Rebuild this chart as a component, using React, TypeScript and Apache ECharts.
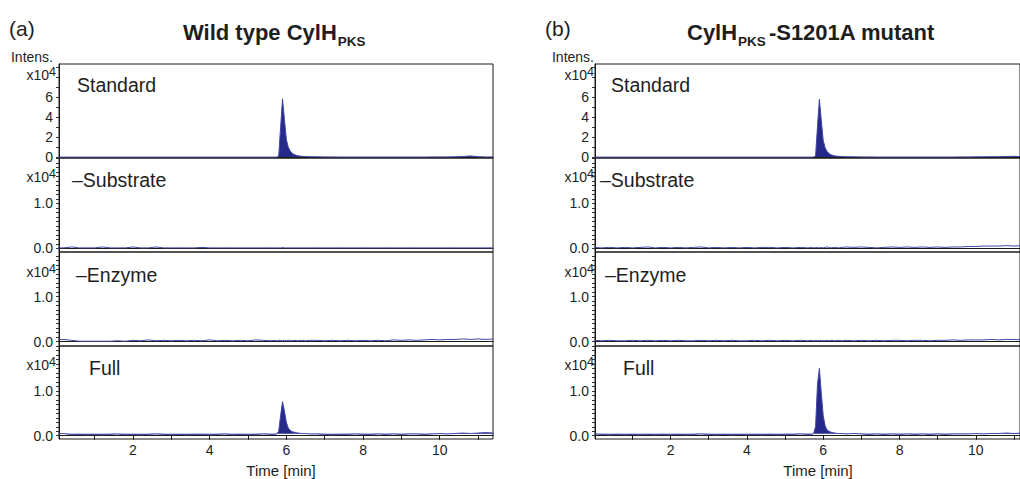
import React, { useEffect, useRef } from "react";
import * as echarts from "echarts";

// ---- data (intensities in units of 10^4) ----
const times = [
  0.0, 0.2, 0.4, 0.6, 0.8, 1.0, 1.2, 1.4, 1.6, 1.8, 2.0, 2.2, 2.4, 2.6, 2.8, 3.0, 3.2, 3.4, 3.6, 3.8, 4.0, 4.2, 4.4, 4.6, 4.8, 5.0, 5.2, 5.4, 5.6,
  5.7, 5.75, 5.8, 5.85, 5.9, 5.95, 6.0, 6.05, 6.1, 6.15, 6.2, 6.3, 6.4, 6.5, 6.6,
  6.8, 7.0, 7.2, 7.4, 7.6, 7.8, 8.0, 8.2, 8.4, 8.6, 8.8, 9.0, 9.2, 9.4, 9.6, 9.8, 10.0, 10.2, 10.4, 10.6, 10.8, 11.0, 11.2, 11.4,
];

const wtStandard = [
  0.02, 0.02, 0.02, 0.02, 0.02, 0.02, 0.02, 0.02, 0.02, 0.02, 0.02, 0.02, 0.02, 0.02, 0.02, 0.02, 0.02, 0.02, 0.02, 0.02, 0.02, 0.02, 0.02, 0.02, 0.02, 0.02, 0.02, 0.02, 0.02,
  0.02, 0.03, 0.1, 3.0, 5.85, 3.8, 1.8, 1.0, 0.65, 0.4, 0.28, 0.15, 0.1, 0.08, 0.06,
  0.05, 0.04, 0.04, 0.03, 0.03, 0.03, 0.03, 0.03, 0.03, 0.03, 0.03, 0.03, 0.03, 0.03, 0.03, 0.04, 0.04, 0.04, 0.05, 0.08, 0.14, 0.06, 0.04, 0.04,
];
const wtSubstrate = [
  0.01, 0.01, 0.03, 0.01, 0.01, 0.01, 0.03, 0.01, 0.01, 0.01, 0.03, 0.01, 0.01, 0.03, 0.01, 0.01, 0.01, 0.01, 0.01, 0.02, 0.01, 0.01, 0.01, 0.01, 0.01, 0.01, 0.01, 0.01, 0.01,
  0.01, 0.01, 0.01, 0.01, 0.02, 0.01, 0.01, 0.01, 0.01, 0.01, 0.01, 0.01, 0.01, 0.01, 0.01,
  0.01, 0.01, 0.01, 0.01, 0.01, 0.01, 0.01, 0.01, 0.01, 0.01, 0.01, 0.01, 0.01, 0.01, 0.01, 0.01, 0.01, 0.01, 0.01, 0.01, 0.01, 0.01, 0.01, 0.01,
];
const wtEnzyme = [
  0.04, 0.05, 0.03, 0.01, 0.01, 0.01, 0.01, 0.01, 0.02, 0.01, 0.03, 0.02, 0.04, 0.02, 0.03, 0.02, 0.03, 0.02, 0.03, 0.02, 0.04, 0.02, 0.03, 0.02, 0.03, 0.02, 0.04, 0.03, 0.02,
  0.03, 0.02, 0.03, 0.03, 0.02, 0.03, 0.02, 0.03, 0.03, 0.02, 0.03, 0.02, 0.03, 0.02, 0.03,
  0.03, 0.02, 0.03, 0.02, 0.03, 0.02, 0.03, 0.02, 0.03, 0.02, 0.04, 0.03, 0.04, 0.03, 0.04, 0.05, 0.04, 0.05, 0.05, 0.06, 0.05, 0.06, 0.05, 0.06,
];
const wtFull = [
  0.04, 0.05, 0.02, 0.03, 0.02, 0.03, 0.02, 0.03, 0.04, 0.02, 0.03, 0.02, 0.03, 0.04, 0.03, 0.02, 0.03, 0.02, 0.03, 0.03, 0.02, 0.03, 0.04, 0.02, 0.03, 0.02, 0.03, 0.04, 0.03,
  0.03, 0.04, 0.1, 0.45, 0.76, 0.55, 0.3, 0.17, 0.12, 0.09, 0.08, 0.06, 0.05, 0.05, 0.04,
  0.04, 0.03, 0.02, 0.03, 0.03, 0.04, 0.03, 0.03, 0.04, 0.03, 0.04, 0.03, 0.04, 0.04, 0.03, 0.04, 0.05, 0.04, 0.05, 0.06, 0.05, 0.06, 0.07, 0.06,
];

const mutStandard = [
  0.02, 0.02, 0.02, 0.02, 0.02, 0.02, 0.02, 0.02, 0.02, 0.02, 0.02, 0.02, 0.02, 0.02, 0.02, 0.02, 0.02, 0.02, 0.02, 0.02, 0.02, 0.02, 0.02, 0.02, 0.02, 0.02, 0.02, 0.02, 0.02,
  0.02, 0.03, 0.12, 3.1, 5.8, 3.7, 1.7, 0.95, 0.6, 0.38, 0.26, 0.14, 0.1, 0.08, 0.06,
  0.05, 0.04, 0.04, 0.03, 0.03, 0.03, 0.03, 0.03, 0.03, 0.03, 0.03, 0.03, 0.03, 0.03, 0.04, 0.04, 0.05, 0.05, 0.06, 0.06, 0.08, 0.1, 0.06, 0.05,
];
const mutSubstrate = [
  0.02, 0.01, 0.02, 0.01, 0.02, 0.01, 0.02, 0.03, 0.01, 0.02, 0.01, 0.02, 0.01, 0.02, 0.03, 0.01, 0.02, 0.01, 0.02, 0.01, 0.02, 0.01, 0.02, 0.02, 0.01, 0.02, 0.01, 0.02, 0.01,
  0.02, 0.01, 0.02, 0.02, 0.01, 0.02, 0.01, 0.02, 0.03, 0.02, 0.01, 0.02, 0.01, 0.02, 0.03,
  0.02, 0.03, 0.02, 0.01, 0.02, 0.03, 0.02, 0.03, 0.02, 0.03, 0.02, 0.03, 0.02, 0.03, 0.03, 0.04, 0.04, 0.05, 0.05, 0.05, 0.06, 0.05, 0.06, 0.06,
];
const mutEnzyme = [
  0.03, 0.02, 0.03, 0.02, 0.02, 0.03, 0.02, 0.03, 0.02, 0.03, 0.02, 0.03, 0.02, 0.02, 0.03, 0.02, 0.03, 0.02, 0.03, 0.02, 0.02, 0.03, 0.02, 0.03, 0.02, 0.03, 0.02, 0.03, 0.02,
  0.03, 0.02, 0.03, 0.02, 0.03, 0.02, 0.03, 0.02, 0.03, 0.02, 0.03, 0.02, 0.03, 0.02, 0.03,
  0.02, 0.03, 0.02, 0.03, 0.02, 0.03, 0.03, 0.02, 0.03, 0.03, 0.02, 0.03, 0.03, 0.04, 0.03, 0.04, 0.04, 0.04, 0.05, 0.04, 0.05, 0.05, 0.04, 0.05,
];
const mutFull = [
  0.04, 0.03, 0.02, 0.03, 0.02, 0.03, 0.02, 0.03, 0.02, 0.03, 0.02, 0.03, 0.02, 0.03, 0.04, 0.03, 0.02, 0.03, 0.02, 0.03, 0.02, 0.03, 0.02, 0.03, 0.02, 0.03, 0.03, 0.04, 0.03,
  0.03, 0.05, 0.2, 1.15, 1.5, 0.95, 0.45, 0.22, 0.13, 0.1, 0.08, 0.06, 0.05, 0.05, 0.04,
  0.05, 0.04, 0.03, 0.04, 0.03, 0.04, 0.03, 0.04, 0.03, 0.04, 0.03, 0.04, 0.03, 0.04, 0.04, 0.04, 0.05, 0.04, 0.05, 0.05, 0.06, 0.05, 0.06, 0.07,
];

const panelNames = ["Standard", "\u2013Substrate", "\u2013Enzyme", "Full"];
const stdTickLabels = [0, 2, 4, 6];
const stdTicks = [0, 1, 2, 3, 4, 5, 6, 7, 8, 9];
const lowTickLabels = [0, 1];
const lowTicks = [0, 0.1, 0.2, 0.3, 0.4, 0.5, 0.6, 0.7, 0.8, 0.9, 1.0, 1.1, 1.2, 1.3, 1.4, 1.5, 1.6, 1.7, 1.8, 1.9, 2.0];
const xTickLabels = [2, 4, 6, 8, 10];
const xTicks = [1, 2, 3, 4, 5, 6, 7, 8, 9, 10, 11];

// ---- layout ----
const FONT = "'Liberation Sans', Arial, Helvetica, sans-serif";
const TXT = "#1e1e1e";
const LINE = "#4347a6";
const FILL = "#252a88";

const rows = [
  { top: 64, height: 94, min: -0.07, max: 9.33, labels: stdTickLabels, ticks: stdTicks, dec: 0, nameY: 85, x10Y: 75, fill: true, origin: 0.03 },
  { top: 158, height: 94, min: -0.082, max: 2.007, labels: lowTickLabels, ticks: lowTicks, dec: 1, nameY: 180, x10Y: 177, fill: false, origin: 0 },
  { top: 252, height: 94, min: -0.096, max: 1.993, labels: lowTickLabels, ticks: lowTicks, dec: 1, nameY: 275, x10Y: 272, fill: false, origin: 0 },
  { top: 346, height: 93, min: -0.073, max: 2.0, labels: lowTickLabels, ticks: lowTicks, dec: 1, nameY: 368, x10Y: 365, fill: true, origin: 0.045 },
];

const sides = [
  {
    left: 59, width: 434, xMin: 0.07, xMax: 11.39,
    data: [wtStandard, wtSubstrate, wtEnzyme, wtFull],
    nameX: [77, 72, 76, 89],
    x10Right: 56, intensRight: 53,
    tag: "(a)", tagX: 9,
    titleX: 183,
    titleRich: "{m|Wild type CylH}{s|PKS}",
    timeX: 281,
  },
  {
    left: 595, width: 426, xMin: 0.02, xMax: 11.157,
    data: [mutStandard, mutSubstrate, mutEnzyme, mutFull],
    nameX: [611, 600, 605, 623],
    x10Right: 594, intensRight: 594,
    tag: "(b)", tagX: 545,
    titleX: 687,
    titleRich: "{m|CylH}{s|PKS}{m|-S1201A mutant}",
    timeX: 818,
  },
];

export default function App() {
  const ref = useRef<HTMLDivElement>(null);

  useEffect(() => {
    document.body.style.margin = "0";
    if (!ref.current) return;
    const chart = echarts.init(ref.current, null, { renderer: "svg" });

    const grid: any[] = [];
    const xAxis: any[] = [];
    const yAxis: any[] = [];
    const series: any[] = [];
    const graphic: any[] = [];

    sides.forEach((s) => {
      rows.forEach((r, ri) => {
        const idx = grid.length;
        const isBottom = ri === rows.length - 1;
        grid.push({
          left: s.left, top: r.top, width: s.width, height: r.height,
          show: true, borderColor: "#1a1a1a", borderWidth: 1, backgroundColor: "transparent",
          containLabel: false,
        });
        xAxis.push({
          type: "value", gridIndex: idx, min: s.xMin, max: s.xMax,
          axisLine: { show: true, lineStyle: { color: "#1a1a1a", width: 1 } },
          splitLine: { show: false },
          axisTick: isBottom
            ? { show: true, customValues: xTicks, length: 4, inside: false, lineStyle: { color: "#1a1a1a" } }
            : { show: false },
          axisLabel: isBottom
            ? { show: true, customValues: xTickLabels, fontSize: 14, color: TXT, fontFamily: FONT, margin: 4 }
            : { show: false },
        });
        yAxis.push({
          type: "value", gridIndex: idx, min: r.min, max: r.max,
          axisLine: { show: true, lineStyle: { color: "#1a1a1a", width: 1 } },
          splitLine: { show: false },
          axisTick: { show: true, customValues: r.ticks, length: 3, inside: false, lineStyle: { color: "#333" } },
          axisLabel: {
            show: true, customValues: r.labels, fontSize: 14, color: TXT, fontFamily: FONT, margin: 6,
            formatter: (v: number) => v.toFixed(r.dec),
          },
        });
        const vals = s.data[ri];
        const ser: any = {
          type: "line", xAxisIndex: idx, yAxisIndex: idx,
          data: times.map((t, k) => [t, vals[k]]),
          symbol: "none", showSymbol: false, clip: true,
          lineStyle: { color: LINE, width: 1 },
          silent: true,
        };
        if (r.fill) ser.areaStyle = { color: FILL, opacity: 1, origin: r.origin };
        series.push(ser);
        // panel name
        graphic.push({
          type: "text", x: s.nameX[ri], y: r.nameY, silent: true,
          style: { text: panelNames[ri], fontSize: 19.5, fontFamily: FONT, fill: TXT, align: "left", verticalAlign: "middle" },
        });
        // x10^4
        graphic.push({
          type: "text", x: s.x10Right, y: r.x10Y, silent: true,
          style: {
            text: "{n|x10}{s|4}", align: "right", verticalAlign: "middle", fill: TXT,
            rich: {
              n: { fontSize: 14, fontFamily: FONT, fill: TXT },
              s: { fontSize: 12.5, fontFamily: FONT, fill: TXT, padding: [0, 0, 7, 0] },
            },
          },
        });
      });

      // Intens.
      graphic.push({
        type: "text", x: s.intensRight, y: 57, silent: true,
        style: { text: "Intens.", fontSize: 14, fontFamily: FONT, fill: TXT, align: "right", verticalAlign: "middle" },
      });
      // (a)/(b)
      graphic.push({
        type: "text", x: s.tagX, y: 28, silent: true,
        style: { text: s.tag, fontSize: 21, fontFamily: FONT, fill: TXT, align: "left", verticalAlign: "middle" },
      });
      // title
      graphic.push({
        type: "text", x: s.titleX, y: 32, silent: true,
        style: {
          text: s.titleRich, align: "left", verticalAlign: "middle", fill: TXT,
          rich: {
            m: { fontSize: 22, fontWeight: "bold", fontFamily: FONT, fill: TXT },
            s: { fontSize: 13.5, fontWeight: "bold", fontFamily: FONT, fill: TXT, padding: [19, 3, 0, 1] },
          },
        },
      });
      // Time [min]
      graphic.push({
        type: "text", x: s.timeX, y: 470, silent: true,
        style: { text: "Time [min]", fontSize: 15, fontFamily: FONT, fill: TXT, align: "center", verticalAlign: "middle" },
      });
    });

    chart.setOption({
      animation: false,
      backgroundColor: "#ffffff",
      textStyle: { fontFamily: FONT },
      grid, xAxis, yAxis, series, graphic,
    });

    return () => chart.dispose();
  }, []);

  return <div ref={ref} style={{ width: 1020, height: 479 }} />;
}
